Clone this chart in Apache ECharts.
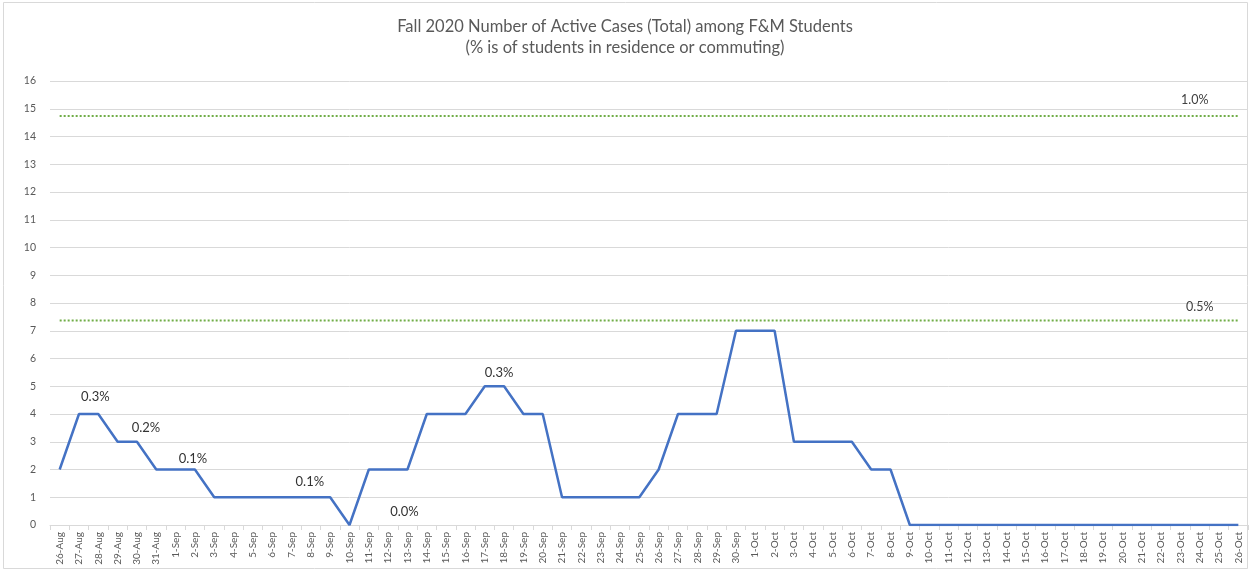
<!DOCTYPE html>
<html>
<head>
<meta charset="utf-8">
<script src="https://cdn.jsdelivr.net/npm/echarts@6/dist/echarts.min.js"></script>
<style>
  html, body { margin: 0; padding: 0; background: #fff; }
  #chart { width: 1250px; height: 571px; }
</style>
</head>
<body>
<div id="chart"></div>
<script>
// ---- data ----
const dates = [
  '26-Aug','27-Aug','28-Aug','29-Aug','30-Aug','31-Aug',
  '1-Sep','2-Sep','3-Sep','4-Sep','5-Sep','6-Sep','7-Sep','8-Sep','9-Sep','10-Sep',
  '11-Sep','12-Sep','13-Sep','14-Sep','15-Sep','16-Sep','17-Sep','18-Sep','19-Sep','20-Sep',
  '21-Sep','22-Sep','23-Sep','24-Sep','25-Sep','26-Sep','27-Sep','28-Sep','29-Sep','30-Sep',
  '1-Oct','2-Oct','3-Oct','4-Oct','5-Oct','6-Oct','7-Oct','8-Oct','9-Oct','10-Oct',
  '11-Oct','12-Oct','13-Oct','14-Oct','15-Oct','16-Oct','17-Oct','18-Oct','19-Oct','20-Oct',
  '21-Oct','22-Oct','23-Oct','24-Oct','25-Oct','26-Oct'
];
const activeCases = [
  2,4,4,3,3,2,
  2,2,1,1,1,1,1,1,1,0,
  2,2,2,4,4,4,5,5,4,4,
  1,1,1,1,1,2,4,4,4,7,
  7,7,3,3,3,3,2,2,0,0,
  0,0,0,0,0,0,0,0,0,0,
  0,0,0,0,0,0
];
const pctLabelDates = ['28-Aug','30-Aug','2-Sep','8-Sep','13-Sep','18-Sep'];
const pctLabelTexts = ['0.3%','0.2%','0.1%','0.1%','0.0%','0.3%'];
const threshold1pct = 14.74;   // 1.0% of students
const threshold05pct = 7.37;   // 0.5% of students
const thresholdTexts = ['1.0%','0.5%'];
const thresholdLabelDate = '24-Oct';
const yTicks = [0,16];

// ---- styling (layout only) ----
const pctLabelOffsets = [[-3,-17],[9,-14],[-2,-11],[-1,-15],[-3,42],[-5,-13]];
const thresholdLabelOffsets = [[-5,-16],[0,-14]];
const FONT = 'Lato';

const mainData = activeCases.map((v, i) => {
  const k = pctLabelDates.indexOf(dates[i]);
  if (k < 0) return v;
  return {
    value: v,
    label: { show: true, formatter: pctLabelTexts[k], position: 'inside', offset: pctLabelOffsets[k],
             color: '#333333', fontSize: 13, fontFamily: FONT }
  };
});

function thresholdData(val, k) {
  return dates.map(d => d === thresholdLabelDate ? {
    value: val,
    label: { show: true, formatter: thresholdTexts[k], position: 'inside', offset: thresholdLabelOffsets[k],
             color: '#404040', fontSize: 12.5, fontFamily: FONT }
  } : val);
}

const chart = echarts.init(document.getElementById('chart'), null, { renderer: 'canvas' });
chart.setOption({
  animation: false,
  backgroundColor: '#ffffff',
  title: {
    text: 'Fall 2020 Number of Active Cases (Total) among F&M Students\n(% is of students in residence or commuting)',
    left: 'center',
    top: 11,
    textStyle: { fontFamily: FONT, fontSize: 16.5, fontWeight: 'normal', color: '#595959', lineHeight: 21 }
  },
  graphic: [{
    type: 'rect', silent: true, z: -1,
    shape: { x: 3.5, y: 2.5, width: 1244, height: 566 },
    style: { fill: 'none', stroke: '#D9D9D9', lineWidth: 1 }
  }],
  grid: { left: 50, right: 2, top: 81, bottom: 46, containLabel: false },
  xAxis: {
    type: 'category',
    data: dates,
    boundaryGap: true,
    axisLine: { lineStyle: { color: '#D9D9D9', width: 1 } },
    axisTick: { show: true, length: 5, lineStyle: { color: '#D9D9D9' } },
    axisLabel: { interval: 0, rotate: 90, margin: 7, fontSize: 10, fontFamily: FONT, color: '#595959' },
    splitLine: { show: false }
  },
  yAxis: {
    type: 'value',
    min: yTicks[0], max: yTicks[1], interval: 1,
    axisLine: { show: false },
    axisTick: { show: false },
    axisLabel: { margin: 14, fontSize: 10.5, fontFamily: FONT, color: '#595959' },
    splitLine: { lineStyle: { color: '#D9D9D9', width: 1 } }
  },
  series: [
    {
      type: 'line', data: thresholdData(threshold1pct, 0),
      symbol: 'circle', symbolSize: 0, showSymbol: true, showAllSymbol: true,
      lineStyle: { color: '#70AD47', width: 2, type: [2, 2] },
      itemStyle: { color: '#70AD47' }, z: 2
    },
    {
      type: 'line', data: thresholdData(threshold05pct, 1),
      symbol: 'circle', symbolSize: 0, showSymbol: true, showAllSymbol: true,
      lineStyle: { color: '#70AD47', width: 2, type: [2, 2] },
      itemStyle: { color: '#70AD47' }, z: 2
    },
    {
      type: 'line', data: mainData,
      symbol: 'circle', symbolSize: 0, showSymbol: true, showAllSymbol: true,
      lineStyle: { color: '#4472C4', width: 2.5 },
      itemStyle: { color: '#4472C4' }, z: 3
    }
  ]
});
</script>
</body>
</html>
